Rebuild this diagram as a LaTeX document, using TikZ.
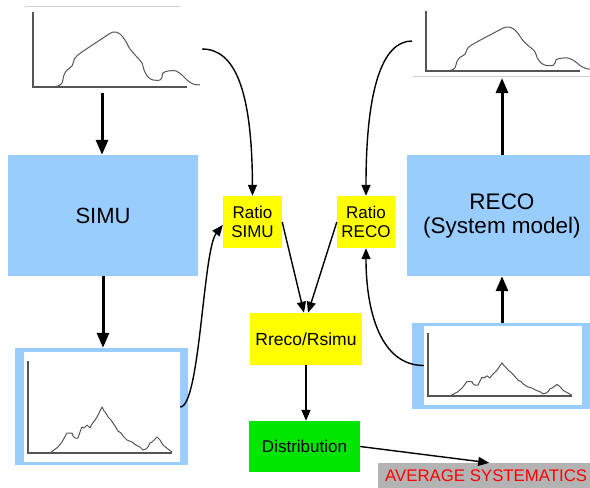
\documentclass[tikz,border=0pt]{standalone}
\usepackage{fontspec}
\setmainfont{Liberation Sans}
\usetikzlibrary{arrows.meta}
\definecolor{panelblue}{HTML}{99CCFF}
\definecolor{ratioyellow}{HTML}{FFFF00}
\definecolor{distgreen}{HTML}{00E600}
\definecolor{avggray}{HTML}{B3B3B3}
\definecolor{axisgray}{HTML}{555555}
\definecolor{rulegray}{HTML}{D0D0D0}
\tikzset{
  block/.style={inner sep=0pt, align=center, text=black},
  bluebox/.style={block, fill=panelblue},
  yellowbox/.style={block, fill=ratioyellow, font=\fontsize{17}{18.5}\selectfont},
  thickarrow/.style={line width=3pt, -{Triangle[length=15pt,width=12pt]}},
  thinarrow/.style={line width=1.4pt, -{Triangle[length=11pt,width=9pt]}},
  axisline/.style={axisgray, line width=1.2pt},
  histline/.style={axisgray, line width=1pt, line join=round},
  ruleline/.style={rulegray, line width=1pt}
}
\begin{document}
\begin{tikzpicture}[x=1pt,y=-1pt]
\useasboundingbox (0,0) rectangle (590,488);

% ---- generated histogram (top left)
\draw[ruleline] (25,6) -- (180,6);
\draw[axisline] (33,12) -- (33,87) -- (187,87);
\begin{scope}[shift={(33,87)}]
  \draw[histline] plot[smooth, tension=0.5] coordinates {
    (17,0) (25,-1) (29,-4) (31,-12) (34,-17) (39,-21) (42,-29) (49,-35)
    (67,-47) (80,-55) (87,-53) (92,-47) (97,-38) (103,-31) (109,-24)
    (111,-17) (115,-10) (120,-7) (127,-7) (129,-10) (130,-14) (135,-16)
    (143,-16) (149,-12) (154,-7) (160,-3) (167,-2)};
\end{scope}
\coordinate (tlplot) at (102,93);
\coordinate (tlplotR) at (202,49);

% ---- reconstructed histogram (top right)
\draw[axisline] (426,11) -- (426,71) -- (580,71);
\draw[ruleline] (413,76) -- (590,76);
\begin{scope}[shift={(426,71)}, yscale=0.8]
  \draw[histline] plot[smooth, tension=0.5] coordinates {
    (17,0) (25,-1) (29,-4) (31,-12) (34,-17) (39,-21) (42,-29) (49,-35)
    (67,-47) (80,-55) (87,-53) (92,-47) (97,-38) (103,-31) (109,-24)
    (111,-17) (115,-10) (120,-7) (127,-7) (129,-10) (130,-14) (135,-16)
    (143,-16) (149,-12) (154,-7) (160,-3) (167,-2)};
\end{scope}
\coordinate (trplot) at (502,78);
\coordinate (trplotL) at (412,41);

% ---- model blocks
\node[bluebox, minimum width=190pt, minimum height=121pt,
      font=\fontsize{22}{24}\selectfont] (simu) at (103,215.5) {SIMU};
\node[bluebox, minimum width=190pt, minimum height=121pt,
      font=\fontsize{22.5}{24}\selectfont] (reco) at (502,215.5) {RECO\\(System model)};

% ---- framed histograms (bottom)
\node[fill=panelblue, minimum width=173pt, minimum height=117pt, inner sep=0pt] (blframe) at (101.5,406.5) {};
\node[fill=white, minimum width=156pt, minimum height=110pt, inner sep=0pt] (blplot) at (102,407) {};
\draw[axisline] (28,361) -- (28,453) -- (172,453);
\begin{scope}[shift={(28,453)}]
  \draw[histline] plot coordinates {
    (22,0) (26,-3) (30,-6) (34,-11) (39,-20) (44,-20) (45,-17) (47,-15)
    (50,-15) (52,-21) (54,-26) (56,-25) (59,-28) (62,-25) (64,-29) (67,-33)
    (69,-36) (72,-42) (74,-46) (76,-42) (77,-41) (79,-38) (80,-36) (83,-33)
    (85,-30) (87,-27) (90,-22) (93,-20) (95,-17) (99,-13) (104,-11) (108,-8)
    (112,-6) (115,-3) (118,-4) (120,-6) (122,-10) (124,-11) (127,-14)
    (129,-16) (132,-13) (135,-8) (140,-4) (144,-1)};
\end{scope}

\node[fill=panelblue, minimum width=178pt, minimum height=86pt, inner sep=0pt] (brframe) at (501,366) {};
\node[fill=white, minimum width=158pt, minimum height=79pt, inner sep=0pt] (brplot) at (503,365.5) {};
\draw[axisline] (428,333) -- (428,396) -- (572,396);
\begin{scope}[shift={(428,396)}, yscale=0.72]
  \draw[histline] plot coordinates {
    (22,0) (26,-3) (30,-6) (34,-11) (39,-20) (44,-20) (45,-17) (47,-15)
    (50,-15) (52,-21) (54,-26) (56,-25) (59,-28) (62,-25) (64,-29) (67,-33)
    (69,-36) (72,-42) (74,-46) (76,-42) (77,-41) (79,-38) (80,-36) (83,-33)
    (85,-30) (87,-27) (90,-22) (93,-20) (95,-17) (99,-13) (104,-11) (108,-8)
    (112,-6) (115,-3) (118,-4) (120,-6) (122,-10) (124,-11) (127,-14)
    (129,-16) (132,-13) (135,-8) (140,-4) (144,-1)};
\end{scope}

% ---- ratio and result blocks
\node[yellowbox, minimum width=59pt, minimum height=52pt] (rsimu) at (252.5,222) {Ratio\\SIMU};
\node[yellowbox, minimum width=58pt, minimum height=52pt] (rreco) at (366,222) {Ratio\\RECO};
\node[block, fill=ratioyellow, minimum width=112pt, minimum height=52pt,
      font=\fontsize{17.5}{20}\selectfont] (rr) at (306,339) {Rreco/Rsimu};
\node[block, fill=distgreen, minimum width=111pt, minimum height=51pt,
      font=\fontsize{17}{20}\selectfont] (dist) at (304.5,446.5) {Distribution};
\node[block, fill=avggray, anchor=west, inner xsep=7pt, minimum height=25pt,
      text=red, font=\fontsize{16.8}{20}\selectfont] (avg) at (378,475.5) {AVERAGE SYSTEMATICS};

% ---- thick flow arrows
\draw[thickarrow] (tlplot) -- (tlplot |- simu.north);
\draw[thickarrow] (simu.south) -- (simu.south |- blframe.north);
\draw[thickarrow] (reco.south |- brframe.north) -- (reco.south);
\draw[thickarrow] (reco.north) -- (trplot);

% ---- curved connectors into the ratio blocks
\draw[thinarrow] (tlplotR) .. controls (235,49) and (252,90) .. (rsimu.north);
\draw[thinarrow] (trplotL) .. controls (382,41) and (366,90) .. (rreco.north);
\draw[thinarrow] (blplot.east) .. controls (200,407) and (203,250) .. ([yshift=-3pt]rsimu.west);
\draw[thinarrow] (brplot.west) .. controls (380,365.5) and (366,310) .. (rreco.south);

% ---- straight connectors
\draw[thinarrow] (rsimu.east) -- ([xshift=-2pt]rr.north);
\draw[thinarrow] (rreco.west) -- ([xshift=2pt]rr.north);
\draw[thinarrow] (rr.south) -- (rr.south |- dist.north);
\draw[thinarrow] (dist.east) -- ([xshift=3pt]avg.north);
\end{tikzpicture}
\end{document}
